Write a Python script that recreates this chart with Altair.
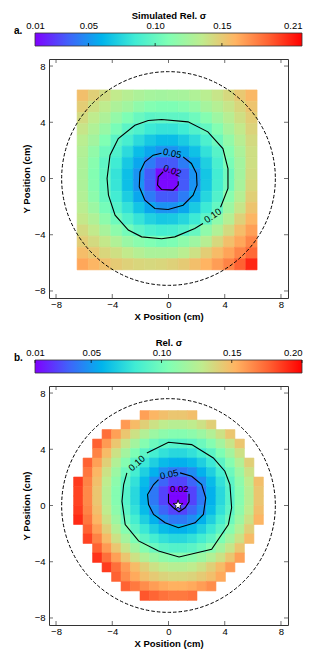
import altair as alt
import pandas as pd

# ---------------- data ----------------
TICKS = [-8, -4, 0, 4, 8]

# panel a: simulated map on a regular grid (cell centres, cm)
XA = [-6.1, -5.3, -4.5, -3.7, -2.9, -2.1, -1.3, -0.5, 0.3, 1.1, 1.9, 2.7, 3.5, 4.3, 5.1, 5.9]
YA = [5.9, 5.1, 4.3, 3.5, 2.7, 1.9, 1.1, 0.3, -0.5, -1.3, -2.1, -2.9, -3.7, -4.5, -5.3, -6.1]
CELL_A = 0.8
VA = [
    [0.155, 0.148, 0.142, 0.136, 0.132, 0.128, 0.125, 0.124, 0.125, 0.126, 0.129, 0.133, 0.138, 0.144, 0.151, 0.158],
    [0.149, 0.141, 0.135, 0.128, 0.123, 0.116, 0.111, 0.109, 0.109, 0.112, 0.117, 0.125, 0.131, 0.138, 0.145, 0.153],
    [0.143, 0.135, 0.128, 0.118, 0.109, 0.101, 0.096, 0.097, 0.097, 0.097, 0.103, 0.112, 0.122, 0.132, 0.141, 0.149],
    [0.138, 0.129, 0.119, 0.107, 0.096, 0.091, 0.084, 0.081, 0.081, 0.085, 0.092, 0.099, 0.111, 0.125, 0.136, 0.146],
    [0.133, 0.124, 0.110, 0.096, 0.088, 0.077, 0.069, 0.064, 0.064, 0.070, 0.078, 0.090, 0.102, 0.117, 0.132, 0.143],
    [0.130, 0.117, 0.102, 0.091, 0.077, 0.064, 0.056, 0.050, 0.050, 0.056, 0.066, 0.080, 0.094, 0.111, 0.127, 0.141],
    [0.128, 0.113, 0.097, 0.085, 0.069, 0.056, 0.043, 0.033, 0.033, 0.043, 0.056, 0.072, 0.089, 0.107, 0.124, 0.141],
    [0.127, 0.111, 0.098, 0.081, 0.065, 0.050, 0.033, 0.013, 0.013, 0.033, 0.050, 0.068, 0.086, 0.103, 0.124, 0.142],
    [0.128, 0.112, 0.098, 0.082, 0.065, 0.050, 0.033, 0.012, 0.012, 0.033, 0.050, 0.069, 0.087, 0.104, 0.126, 0.144],
    [0.130, 0.115, 0.100, 0.086, 0.071, 0.056, 0.043, 0.033, 0.033, 0.043, 0.056, 0.075, 0.092, 0.113, 0.131, 0.148],
    [0.133, 0.121, 0.106, 0.093, 0.080, 0.067, 0.056, 0.050, 0.050, 0.056, 0.070, 0.084, 0.099, 0.121, 0.138, 0.153],
    [0.137, 0.129, 0.115, 0.103, 0.091, 0.081, 0.073, 0.069, 0.070, 0.075, 0.084, 0.096, 0.116, 0.131, 0.147, 0.159],
    [0.143, 0.136, 0.126, 0.115, 0.105, 0.096, 0.090, 0.087, 0.088, 0.092, 0.100, 0.116, 0.129, 0.143, 0.156, 0.166],
    [0.149, 0.143, 0.137, 0.129, 0.120, 0.114, 0.110, 0.107, 0.109, 0.115, 0.122, 0.132, 0.144, 0.155, 0.164, 0.174],
    [0.156, 0.151, 0.145, 0.141, 0.136, 0.131, 0.127, 0.127, 0.128, 0.133, 0.140, 0.149, 0.157, 0.165, 0.174, 0.183],
    [0.164, 0.159, 0.154, 0.150, 0.147, 0.145, 0.144, 0.145, 0.147, 0.150, 0.155, 0.160, 0.167, 0.175, 0.185, 0.200],
]

# panel b: measured map on the detector grid (None = outside detector)
XB = [-6.413, -5.738, -5.063, -4.388, -3.713, -3.038, -2.363, -1.688, -1.013, -0.338,
      0.338, 1.013, 1.688, 2.363, 3.038, 3.713, 4.388, 5.063, 5.738, 6.413]
YB = [6.413, 5.738, 5.063, 4.388, 3.713, 3.038, 2.363, 1.688, 1.013, 0.338,
      -0.338, -1.013, -1.688, -2.363, -3.038, -3.713, -4.388, -5.063, -5.738, -6.413]
CELL_B = 0.675
N = None
VB = [
    [N]*7 + [0.166, 0.159, 0.155, 0.152, 0.152, 0.155] + [N]*7,
    [N]*5 + [0.168, 0.157, 0.148, 0.140, 0.135, 0.132, 0.132, 0.135, 0.140, 0.148] + [N]*5,
    [N]*3 + [0.181, 0.166, 0.152, 0.140, 0.130, 0.121, 0.115, 0.112, 0.112, 0.115, 0.121, 0.130, 0.140, 0.152] + [N]*3,
    [N]*2 + [0.185, 0.168, 0.152, 0.138, 0.124, 0.112, 0.102, 0.096, 0.093, 0.093, 0.096, 0.102, 0.112, 0.124, 0.138, 0.152] + [N]*2,
    [N]*2 + [0.175, 0.157, 0.140, 0.124, 0.109, 0.096, 0.087, 0.080, 0.076, 0.076, 0.080, 0.087, 0.096, 0.109, 0.124, 0.140] + [N]*2,
    [N] + [0.185, 0.166, 0.148, 0.130, 0.112, 0.096, 0.083, 0.072, 0.063, 0.059, 0.059, 0.063, 0.072, 0.083, 0.096, 0.112, 0.130, 0.148] + [N],
    [N] + [0.179, 0.159, 0.140, 0.121, 0.102, 0.087, 0.072, 0.059, 0.048, 0.042, 0.042, 0.048, 0.059, 0.072, 0.087, 0.102, 0.121, 0.140] + [N],
    [0.195, 0.175, 0.155, 0.135, 0.115, 0.096, 0.080, 0.063, 0.048, 0.036, 0.027, 0.027, 0.036, 0.048, 0.063, 0.080, 0.096, 0.115, 0.135, 0.155],
    [0.193, 0.173, 0.152, 0.132, 0.112, 0.093, 0.076, 0.059, 0.042, 0.027, 0.012, 0.012, 0.027, 0.042, 0.059, 0.076, 0.093, 0.112, 0.132, 0.152],
    [0.193, 0.173, 0.152, 0.132, 0.112, 0.093, 0.076, 0.059, 0.042, 0.027, 0.011, 0.011, 0.027, 0.042, 0.059, 0.076, 0.093, 0.112, 0.132, 0.152],
    [0.195, 0.175, 0.155, 0.135, 0.115, 0.096, 0.080, 0.063, 0.048, 0.036, 0.027, 0.027, 0.036, 0.048, 0.063, 0.080, 0.096, 0.115, 0.135, 0.155],
    [0.199, 0.179, 0.159, 0.140, 0.121, 0.102, 0.087, 0.072, 0.059, 0.048, 0.042, 0.042, 0.048, 0.059, 0.072, 0.087, 0.102, 0.121, 0.140, 0.159],
    [N] + [0.185, 0.166, 0.148, 0.130, 0.112, 0.096, 0.083, 0.072, 0.063, 0.059, 0.059, 0.063, 0.072, 0.083, 0.096, 0.112, 0.130, 0.148] + [N],
    [N] + [0.193, 0.175, 0.157, 0.140, 0.124, 0.109, 0.096, 0.087, 0.080, 0.076, 0.076, 0.080, 0.087, 0.096, 0.109, 0.124, 0.140, 0.157] + [N],
    [N]*2 + [0.185, 0.168, 0.152, 0.138, 0.124, 0.112, 0.102, 0.096, 0.093, 0.093, 0.096, 0.102, 0.112, 0.124, 0.138, 0.152] + [N]*2,
    [N]*2 + [0.197, 0.181, 0.166, 0.152, 0.140, 0.130, 0.121, 0.115, 0.112, 0.112, 0.115, 0.121, 0.130, 0.140, 0.152, 0.166] + [N]*2,
    [N]*3 + [0.195, 0.181, 0.168, 0.157, 0.148, 0.140, 0.135, 0.132, 0.132, 0.135, 0.140, 0.148, 0.157, 0.168] + [N]*3,
    [N]*4 + [0.185, 0.172, 0.163, 0.155, 0.150, 0.146, 0.144, 0.144, 0.146, 0.150, 0.155, 0.163] + [N]*4,
    [N]*5 + [0.185, 0.178, 0.172, 0.167, 0.163, 0.161, 0.161, 0.163, 0.167, 0.172] + [N]*5,
    [N]*7 + [0.188, 0.184, 0.180, 0.178, 0.178, 0.180] + [N]*7,
]

# contour paths (cm)
CONT_A = {
    "0.10": [(2.45, -3.20), (1.87, -3.56), (0.45, -4.15), (-0.49, -4.29), (-1.91, -4.15), (-2.86, -3.67),
             (-3.80, -2.61), (-4.27, -1.19), (-4.37, 0.0), (-4.16, 1.66), (-3.57, 2.84), (-2.39, 3.79),
             (-1.44, 4.13), (-0.49, 4.20), (1.39, 4.03), (2.80, 3.32), (3.87, 2.13), (4.23, 0.71),
             (4.23, -0.71), (3.76, -1.90), (3.70, -2.05)],
    "0.05": [(1.04, 1.54), (1.63, 1.07), (1.99, 0.36), (2.03, -0.47), (1.75, -1.19), (1.04, -1.90),
             (-0.02, -2.20), (-0.97, -2.13), (-1.68, -1.54), (-2.08, -0.59), (-2.03, 0.47), (-1.68, 1.19),
             (-1.09, 1.66), (-0.50, 1.80)],
    "0.02": [(0.69, -0.19), (0.69, -0.47), (0.33, -0.83), (-0.50, -0.78), (-0.78, -0.47), (-0.73, 0.12),
             (-0.38, 0.48)],
}
LAB_A = [("0.10", 3.15, -2.65, 325), ("0.05", 0.27, 1.78, 12), ("0.02", 0.27, 0.55, 20)]

CONT_B = {
    "0.10": [(-1.54, 3.74), (0.0, 4.50), (1.65, 4.33), (3.19, 3.38), (4.01, 2.44), (4.37, 1.49),
             (4.49, -0.16), (4.26, -1.35), (3.07, -3.12), (0.75, -3.66), (-0.71, -3.23), (-2.13, -2.52),
             (-3.08, -1.35), (-3.31, 0.31), (-3.19, 1.49), (-2.96, 2.32)],
    "0.05": [(0.82, 2.32), (1.65, 2.08), (2.36, 1.49), (2.65, 0.55), (2.48, -0.64), (1.89, -1.23),
             (0.71, -1.58), (-0.24, -1.23), (-1.06, -0.64), (-1.42, 0.07), (-1.49, 0.78), (-1.06, 1.49),
             (-0.71, 1.84)],
    "0.02": [(0.0, 0.83), (0.0, 0.19), (0.35, -0.16), (0.75, -0.45), (1.18, -0.16), (1.46, 0.26), (1.46, 0.83)],
}
LAB_B = [("0.10", -2.25, 3.0, 318), ("0.05", 0.05, 2.2, 348), ("0.02", 0.77, 1.2, 0)]

STAR_B = (0.68, 0.03)
DETECTOR_R = 7.6

CB_A = (0.01, 0.21)
CB_A_LABELS = [0.01, 0.05, 0.10, 0.15, 0.21]
CB_A_TICKS = [0.05, 0.10, 0.15]
CB_B = (0.01, 0.20)
CB_B_LABELS = [0.01, 0.05, 0.10, 0.15, 0.20]
CB_B_TICKS = [0.01, 0.05, 0.10, 0.15, 0.20]

# ---------------- style ----------------
FONT = "Liberation Sans"
W, H = 239, 239
RAINBOW = ["#8000ff", "#4062fa", "#00b4ec", "#40ecd4", "#80ffb4", "#bfec8e", "#ffb462", "#ff6232", "#ff0000"]
FRAME = "#333333"
STAR = ("M0,-1L0.2245,-0.309L0.9511,-0.309L0.3633,0.118L0.5878,0.809L0,0.382"
        "L-0.5878,0.809L-0.3633,0.118L-0.9511,-0.309L-0.2245,-0.309Z")

XS = alt.Scale(domain=[-8.5, 8.5], nice=False, zero=False)
YS = alt.Scale(domain=[-8.5, 8.5], nice=False, zero=False)
AX_X = alt.Axis(values=TICKS, title="X Position (cm)", labelPadding=1, titlePadding=3,
                ticks=False, tickSize=0, domain=False, grid=False, labelFlush=False)
AX_Y = alt.Axis(values=TICKS, title="Y Position (cm)", labelPadding=4, titlePadding=3,
                ticks=False, tickSize=0, domain=False, grid=False, labelFlush=False)

GRAD = alt.LinearGradient(
    gradient="linear",
    stops=[alt.GradientStop(offset=i / (len(RAINBOW) - 1), color=c) for i, c in enumerate(RAINBOW)],
    x1=0, x2=1, y1=0, y2=0,
)


def cscale(lo, hi):
    n = len(RAINBOW)
    dom = [lo + (hi - lo) * i / (n - 1) for i in range(n)]
    return alt.Scale(domain=dom, range=RAINBOW, interpolate="rgb", clamp=True)


def grid_df(xs, ys, vals, cell):
    rows = []
    for yc, row in zip(ys, vals):
        for xc, v in zip(xs, row):
            if v is None:
                continue
            rows.append(dict(x0=xc - cell / 2, x1=xc + cell / 2, y0=yc - cell / 2, y1=yc + cell / 2, v=v))
    return pd.DataFrame(rows)


def panel(letter, grid, conts, labs, cb, cb_labels, cb_ticks, cb_title, tick_top, star=None):
    sc = cscale(*cb)
    heat = alt.Chart(grid).mark_rect(strokeWidth=0.6).encode(
        x=alt.X("x0:Q", scale=XS, axis=AX_X), x2="x1:Q",
        y=alt.Y("y0:Q", scale=YS, axis=AX_Y), y2="y1:Q",
        fill=alt.Fill("v:Q", scale=sc, legend=None),
        stroke=alt.Stroke("v:Q", scale=sc, legend=None),
    )
    cdf = pd.DataFrame([dict(cid=k, i=i, x=p[0], y=p[1]) for k, pts in conts.items() for i, p in enumerate(pts)])
    lines = alt.Chart(cdf).mark_line(color="black", strokeWidth=1.1).encode(
        x=alt.X("x:Q", scale=XS, axis=AX_X), y=alt.Y("y:Q", scale=YS, axis=AX_Y),
        detail="cid:N", order="i:Q")
    ldf = pd.DataFrame(labs, columns=["t", "x", "y", "a"])
    labels = alt.Chart(ldf).mark_text(fontSize=9.5, color="black", font=FONT).encode(
        x=alt.X("x:Q", scale=XS, axis=AX_X), y=alt.Y("y:Q", scale=YS, axis=AX_Y),
        text="t:N", angle=alt.Angle("a:Q", scale=None))
    px_per_cm = W / 17.0
    circ = alt.Chart(pd.DataFrame({"x": [0.0], "y": [0.0]})).mark_point(
        shape="circle", filled=False, color="black", strokeWidth=1, strokeDash=[3.5, 2],
        size=(2 * DETECTOR_R * px_per_cm) ** 2, opacity=1, clip=True).encode(
        x=alt.X("x:Q", scale=XS, axis=AX_X), y=alt.Y("y:Q", scale=YS, axis=AX_Y))
    tdf = pd.DataFrame({"t": TICKS})
    tk = dict(size=4, thickness=1, color=FRAME)
    tb = alt.Chart(tdf).mark_tick(orient="vertical", **tk).encode(
        x=alt.X("t:Q", scale=XS, axis=AX_X), y=alt.value(H - 2))
    tt = alt.Chart(tdf).mark_tick(orient="vertical", **tk).encode(
        x=alt.X("t:Q", scale=XS, axis=AX_X), y=alt.value(2))
    tl = alt.Chart(tdf).mark_tick(orient="horizontal", **tk).encode(
        y=alt.Y("t:Q", scale=YS, axis=AX_Y), x=alt.value(2))
    tr = alt.Chart(tdf).mark_tick(orient="horizontal", **tk).encode(
        y=alt.Y("t:Q", scale=YS, axis=AX_Y), x=alt.value(W - 2))
    plot_layers = [heat, lines, labels, circ, tb, tt, tl, tr]
    if star is not None:
        sdf = pd.DataFrame({"x": [star[0]], "y": [star[1]]})
        plot_layers.append(alt.Chart(sdf).mark_point(
            shape=STAR, filled=True, fill="white", stroke="black", strokeWidth=0.8, size=110, opacity=1).encode(
            x=alt.X("x:Q", scale=XS, axis=AX_X), y=alt.Y("y:Q", scale=YS, axis=AX_Y)))
    plot = alt.layer(*plot_layers)

    # colour bar above the map
    cbs = alt.Scale(domain=list(cb), range=[-14, 253], nice=False, zero=False)
    cb_ax = alt.Axis(orient="top", offset=26, values=cb_labels, format=".2f", title=cb_title,
                     domain=False, ticks=False, tickSize=0, grid=False, labelPadding=3, titlePadding=0,
                     labelFlush=False, labelOverlap=False,
                     labelAlign={"condition": {"test": "datum.value > %f" % (cb[1] - 0.001), "value": "right"},
                                 "value": "center"})
    bar = alt.Chart(pd.DataFrame({"lo": [cb[0]], "hi": [cb[1]]})).mark_rect(
        fill=GRAD, stroke=FRAME, strokeWidth=0.8).encode(
        x=alt.X("lo:Q", scale=cbs, axis=cb_ax), x2="hi:Q",
        y=alt.value(-26), y2=alt.value(-13))
    ty = -24.5 if tick_top else -14.5
    cbt = alt.Chart(pd.DataFrame({"t": cb_ticks})).mark_tick(
        orient="vertical", size=3, thickness=1, color="black").encode(
        x=alt.X("t:Q", scale=cbs, axis=cb_ax), y=alt.value(ty))
    let = alt.Chart(pd.DataFrame({"s": [letter]})).mark_text(
        align="left", baseline="alphabetic", fontSize=10, fontWeight="bold", font=FONT, color="black").encode(
        text="s:N", x=alt.value(-35), y=alt.value(-25))
    cbar = alt.layer(bar, cbt, let)

    return alt.layer(plot, cbar).resolve_scale(x="independent").properties(width=W, height=H)


pa = panel("a.", grid_df(XA, YA, VA, CELL_A), CONT_A, LAB_A, CB_A, CB_A_LABELS, CB_A_TICKS,
           "Simulated Rel. σ", tick_top=False)
pb = panel("b.", grid_df(XB, YB, VB, CELL_B), CONT_B, LAB_B, CB_B, CB_B_LABELS, CB_B_TICKS,
           "Rel. σ", tick_top=True, star=STAR_B)

# negative right padding trims empty bounding space that Vega reserves beside the maps
chart = alt.vconcat(pa, pb, spacing=14).properties(
    padding={"left": 5, "top": 1, "right": -10, "bottom": 0}
).configure(font=FONT).configure_view(
    stroke=FRAME, strokeWidth=1).configure_axis(
    labelFont=FONT, titleFont=FONT, labelFontSize=9.5, titleFontSize=9.5, titleFontWeight="bold",
    labelColor="black", titleColor="black")

chart.save("out.html", embed_options={"renderer": "svg", "actions": False})
